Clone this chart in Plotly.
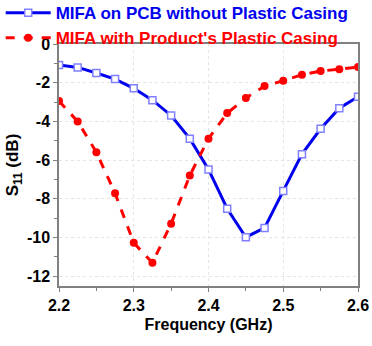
import plotly.graph_objects as go

freq = [2.2, 2.225, 2.25, 2.275, 2.3, 2.325, 2.35, 2.375, 2.4, 2.425, 2.45, 2.475, 2.5, 2.525, 2.55, 2.575, 2.6]
s11_pcb = [-1.08, -1.21, -1.5, -1.81, -2.29, -2.9, -3.69, -4.89, -6.48, -8.51, -9.98, -9.5, -7.59, -5.69, -4.38, -3.32, -2.72]
s11_case = [-2.95, -4.0, -5.59, -7.71, -10.27, -11.3, -9.28, -6.79, -4.89, -3.57, -2.79, -2.17, -1.9, -1.59, -1.4, -1.3, -1.19]
name_pcb = "MIFA on PCB without Plastic Casing"
name_case = "MIFA with Product's Plastic Casing"
x_ticks = [2.2, 2.3, 2.4, 2.5, 2.6]
y_ticks = [0, -2, -4, -6, -8, -10, -12]

BLUE = "#0000ee"
RED = "#ff0000"
FONT = "Liberation Sans, Arial, sans-serif"

fig = go.Figure()
fig.add_trace(go.Scatter(
    x=freq, y=s11_pcb, mode="lines+markers",
    name=f"<b><span style='color:{BLUE}'>{name_pcb}</span></b>",
    line=dict(color=BLUE, width=3),
    marker=dict(symbol="square", size=7, color="white", line=dict(color="#8080ff", width=1.5)),
))
fig.add_trace(go.Scatter(
    x=freq, y=s11_case, mode="lines+markers",
    name=f"<b><span style='color:{RED}'>{name_case}</span></b>",
    line=dict(color=RED, width=3, dash="dash"),
    marker=dict(symbol="circle", size=8, color=RED),
))

axis_common = dict(
    showline=True, linecolor="#808080", linewidth=1.5, mirror=True,
    ticks="outside", ticklen=4, tickcolor="#808080", tickwidth=1,
    showgrid=True, gridcolor="#e4e4e4", griddash="dot", gridwidth=1,
    zeroline=False,
    tickfont=dict(family=FONT, size=16, color="black", weight="bold"),
)

fig.update_xaxes(
    range=[2.2, 2.6], tickvals=x_ticks, ticktext=[f"{v:.1f}" for v in x_ticks],
    minor=dict(dtick=0.05, ticks="outside", ticklen=3, tickcolor="#808080", showgrid=False),
    title=dict(text="<b>Frequency (GHz)</b>", font=dict(family=FONT, size=16, color="black"), standoff=6),
    **axis_common,
)
fig.update_yaxes(
    range=[-12.5, 0], tickvals=y_ticks, ticktext=[str(v) for v in y_ticks],
    minor=dict(dtick=1, ticks="outside", ticklen=3, tickcolor="#808080", showgrid=False),
    title=dict(text="<b>S<sub>11</sub> (dB)</b>", font=dict(family=FONT, size=17, color="black"), standoff=4),
    **axis_common,
)

fig.update_layout(
    width=372, height=346,
    margin=dict(l=59, r=14, t=44, b=60, autoexpand=False),
    plot_bgcolor="white", paper_bgcolor="white",
    font=dict(family=FONT),
    legend=dict(
        x=-0.195, y=1.202, xanchor="left", yanchor="top",
        bgcolor="rgba(0,0,0,0)", borderwidth=0,
        font=dict(family=FONT, size=17),
        itemwidth=45, tracegroupgap=0,
    ),
)

fig.write_html("out.html")
